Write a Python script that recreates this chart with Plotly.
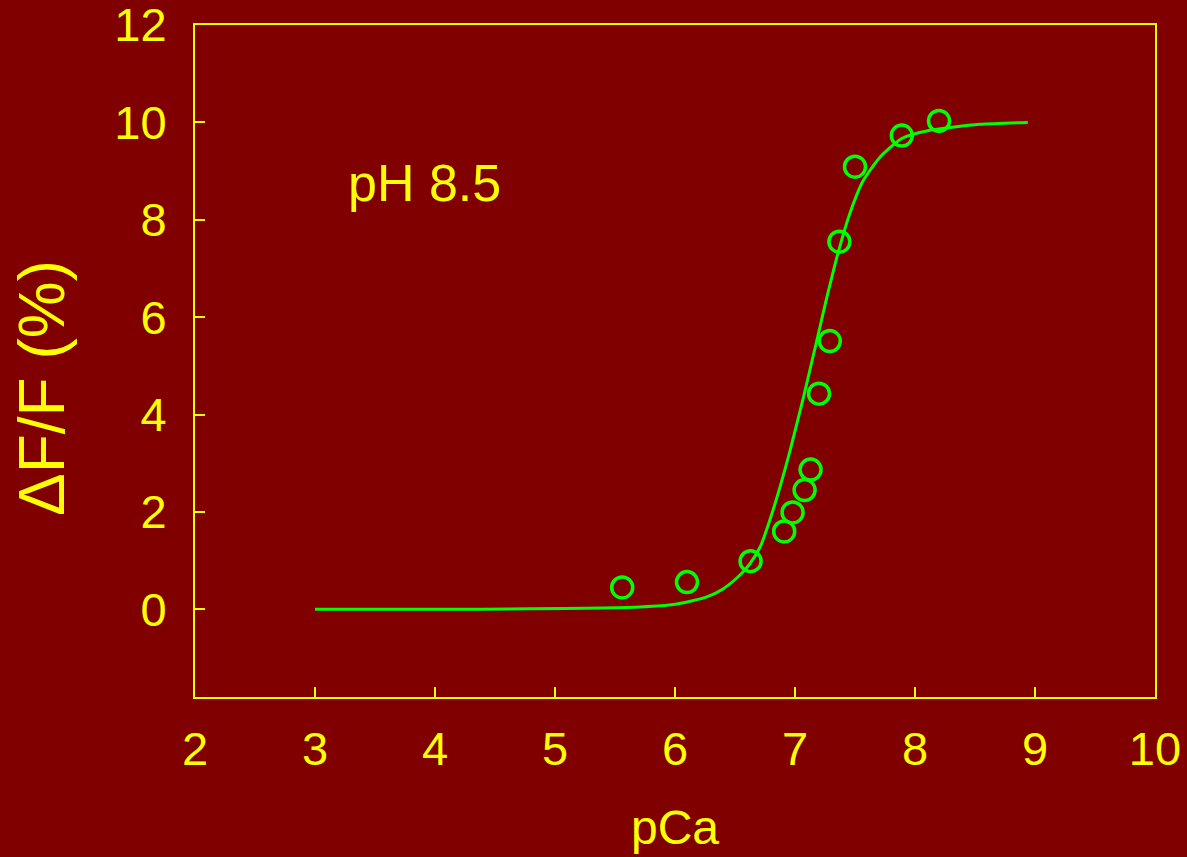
import plotly.graph_objects as go

# Measured data points (pCa, ΔF/F %)
pca_points = [5.56, 6.10, 6.63, 6.91, 6.98, 7.08, 7.13, 7.20, 7.29, 7.37, 7.50, 7.89, 8.20]
dff_points = [0.45, 0.56, 0.99, 1.60, 1.99, 2.45, 2.87, 4.43, 5.51, 7.55, 9.09, 9.73, 10.03]

# Fitted curve
pca_curve = [3.0, 4.0, 4.8, 5.4, 5.71, 5.99, 6.26, 6.40, 6.54, 6.625, 6.71, 6.79, 6.875,
             6.96, 7.07, 7.18, 7.26, 7.37, 7.46, 7.57, 7.71, 7.89, 8.125, 8.54, 8.94]
dff_curve = [0.0, 0.0, 0.01, 0.03, 0.05, 0.10, 0.25, 0.42, 0.70, 0.94, 1.28, 1.83, 2.51,
             3.27, 4.35, 5.50, 6.35, 7.42, 8.15, 8.81, 9.29, 9.67, 9.84, 9.96, 10.0]

x_ticks = [2, 3, 4, 5, 6, 7, 8, 9, 10]
y_ticks = [0, 2, 4, 6, 8, 10, 12]

BG = "#800000"
YEL = "#FFFF00"
GRN = "#00FF00"
FONT = "Arial, Liberation Sans, sans-serif"

fig = go.Figure()
fig.add_trace(go.Scatter(
    x=pca_curve, y=dff_curve, mode="lines",
    line=dict(color=GRN, width=3, shape="spline", smoothing=0.6),
    showlegend=False, hoverinfo="skip"))
fig.add_trace(go.Scatter(
    x=pca_points, y=dff_points, mode="markers",
    marker=dict(symbol="circle-open", size=21, color=GRN, line=dict(color=GRN, width=3.5)),
    showlegend=False))

fig.update_layout(
    width=1187, height=857,
    paper_bgcolor=BG, plot_bgcolor=BG,
    margin=dict(l=195, r=32, t=25, b=160, autoexpand=False),
    font=dict(family=FONT, color=YEL, size=47),
    xaxis=dict(
        range=[2, 10], tickvals=x_ticks, ticktext=[str(v) for v in x_ticks],
        ticks="inside", ticklen=10, tickwidth=2, tickcolor=YEL,
        showline=True, linecolor=YEL, linewidth=2, mirror=True,
        showgrid=False, zeroline=False, automargin=False,
        ticklabeloverflow="allow",
        tickfont=dict(size=47, color=YEL, family=FONT),
        ticklabelstandoff=10,
        title=dict(text="pCa", font=dict(size=48, color=YEL, family=FONT), standoff=36),
    ),
    yaxis=dict(
        range=[-1.8, 12.0001], tickvals=y_ticks, ticktext=[str(v) for v in y_ticks],
        ticks="inside", ticklen=10, tickwidth=2, tickcolor=YEL,
        showline=True, linecolor=YEL, linewidth=2, mirror=True,
        showgrid=False, zeroline=False, automargin=False,
        ticklabeloverflow="allow",
        tickfont=dict(size=47, color=YEL, family=FONT),
        ticklabelstandoff=17,
    ),
    annotations=[
        dict(text="pH 8.5", x=3.26, y=8.75, xref="x", yref="y",
             xanchor="left", yanchor="middle", showarrow=False,
             font=dict(size=52, color=YEL, family=FONT)),
        dict(text="ΔF/F (%)", x=0, y=0, xref="paper", yref="paper",
             textangle=-90, showarrow=False, xanchor="center", yanchor="middle",
             font=dict(size=64, color=YEL, family=FONT)),
    ],
)

# convert pixel placement of the y-title annotation to paper coordinates
ann = fig.layout.annotations[1]
ann.x = (42 - 195) / 960
ann.y = (697 - 388) / 672

fig.write_html(
    "out.html",
    config={"displayModeBar": False},
    post_script="document.body.style.margin='0';document.body.style.overflow='hidden';",
)
